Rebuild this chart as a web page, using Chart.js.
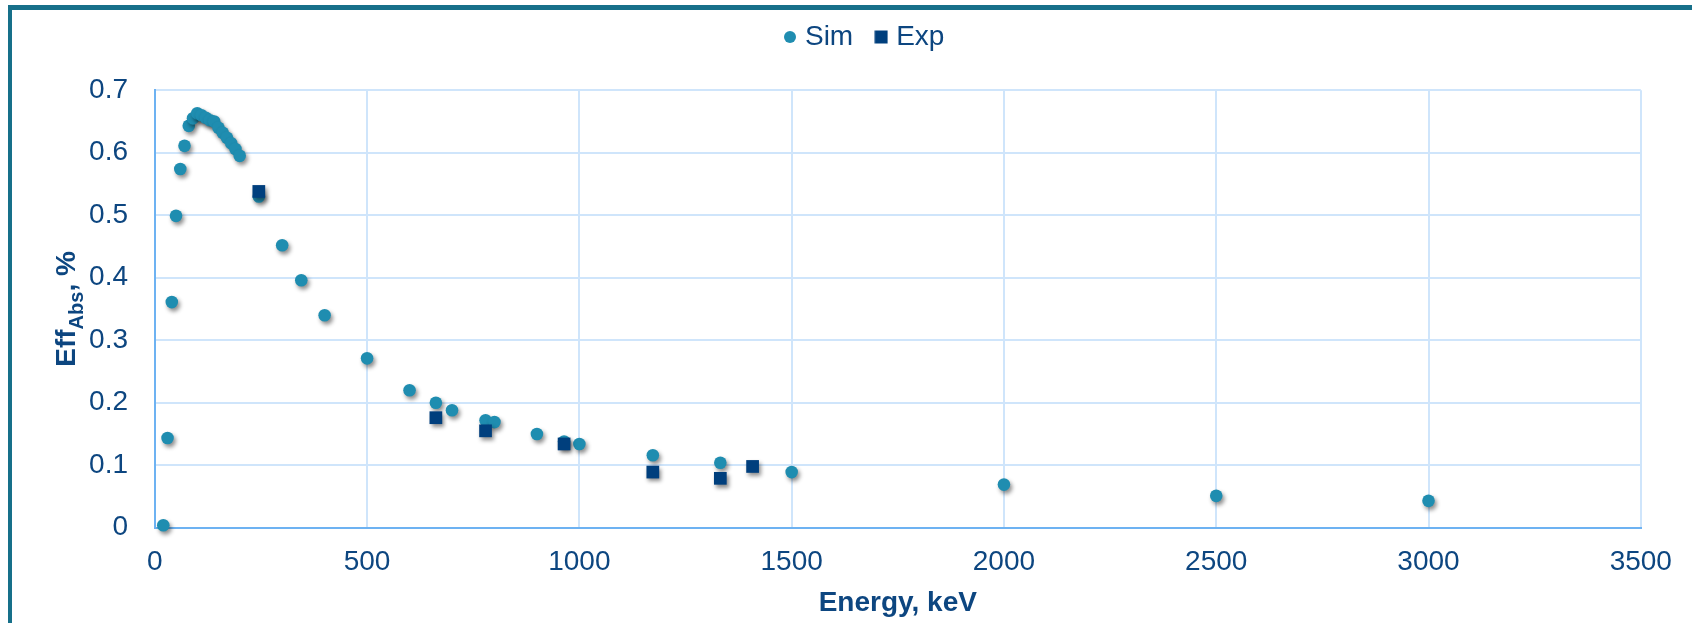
<!DOCTYPE html>
<html>
<head>
<meta charset="utf-8">
<script src="https://cdn.jsdelivr.net/npm/chart.js@4.4.1/dist/chart.umd.min.js"></script>
<style>
  html, body { margin: 0; padding: 0; background: #ffffff; overflow: hidden; }
  body { width: 1692px; height: 623px; position: relative; }
  #frame {
    position: absolute; left: 8px; top: 5px; width: 3000px; height: 3000px;
    border-top: 5.5px solid #17708a; border-left: 4px solid #17708a;
  }
  #chart { position: absolute; left: 0; top: 0; }
</style>
</head>
<body>
<div id="frame"></div>
<canvas id="chart" width="1692" height="623"></canvas>
<script>
// Simulated absolute efficiency vs. photon energy
const simEnergy = [20, 30, 40, 50, 60, 70, 80, 90, 100, 110, 120, 130, 140, 150, 160, 170, 180, 190, 200,
  245, 300, 345, 400, 500, 600, 662, 700, 779, 800, 900, 964, 1000, 1173, 1332, 1500, 2000, 2500, 3000];
const simEff = [0.004, 0.1435, 0.361, 0.499, 0.574, 0.611, 0.643, 0.655, 0.663, 0.660, 0.656, 0.652, 0.650,
  0.640, 0.632, 0.624, 0.615, 0.606, 0.595, 0.530, 0.452, 0.396, 0.340, 0.271, 0.220, 0.200, 0.188, 0.172,
  0.169, 0.150, 0.138, 0.134, 0.116, 0.104, 0.089, 0.069, 0.051, 0.043];

// Measured efficiency at the calibration-source lines
const expEnergy = [245, 662, 779, 964, 1173, 1332, 1408];
const expEff = [0.538, 0.176, 0.155, 0.134, 0.089, 0.079, 0.098];

const seriesNames = ['Sim', 'Exp'];

const xTickValues = [0, 500, 1000, 1500, 2000, 2500, 3000, 3500];
const xTickLabels = ['0', '500', '1000', '1500', '2000', '2500', '3000', '3500'];
const yTickValues = [0, 0.1, 0.2, 0.3, 0.4, 0.5, 0.6, 0.7];
const yTickLabels = ['0', '0.1', '0.2', '0.3', '0.4', '0.5', '0.6', '0.7'];

const xTitle = 'Energy, keV';
const yTitleMain = 'Eff';
const yTitleSub = 'Abs';
const yTitleTail = ', %';

const FONT = '"Liberation Sans", Arial, Helvetica, sans-serif';
const TEXT_COLOR = '#0d4680';
const SIM_COLOR = '#1f8db0';
const EXP_COLOR = '#003f7d';
const GRID_COLOR = '#cfe5fb';
const AXIS_COLOR = '#6db2f2';

// Plot-area edges on the canvas
const AREA = { left: 154.8, right: 1640.8, top: 90.2, bottom: 527.7 };
const PAD = { left: 0, right: 1692 - AREA.right, top: -4, bottom: 0 };
const LEGEND_LEFT = 92.6;

// Small marker images for the legend
function legendMark(kind, color) {
  const c = document.createElement('canvas');
  c.width = 14; c.height = 14;
  const g = c.getContext('2d');
  g.fillStyle = color;
  if (kind === 'circle') {
    g.beginPath(); g.arc(7, 7, 6, 0, Math.PI * 2); g.fill();
  } else {
    g.fillRect(0.5, 0.5, 13, 13);
  }
  return c;
}
const legendMarks = [legendMark('circle', SIM_COLOR), legendMark('rect', EXP_COLOR)];

// Soft drop shadow under the data markers
const markerShadow = {
  id: 'markerShadow',
  beforeDatasetDraw(chart) {
    const c = chart.ctx;
    c.save();
    c.shadowColor = 'rgba(0,0,0,0.45)';
    c.shadowBlur = 4;
    c.shadowOffsetX = 2;
    c.shadowOffsetY = 3;
  },
  afterDatasetDraw(chart) { chart.ctx.restore(); }
};

// Keeps the legend band tall enough that the plot starts at AREA.top,
// and centres the legend row over the plot
const legendBand = {
  id: 'legendBand',
  beforeLayout(chart) {
    const lg = chart.legend;
    if (lg && !lg._bandPatched) {
      const fit = lg.fit;
      lg.fit = function () { fit.call(this); this.height = AREA.top - PAD.top; };
      lg._bandPatched = true;
    }
  },
  afterLayout(chart) {
    if (chart.legend) chart.legend.left = LEGEND_LEFT;
  }
};

// Rotated y-axis title with subscript
const yAxisTitle = {
  id: 'yAxisTitle',
  afterDraw(chart) {
    const ctx = chart.ctx;
    const ca = chart.chartArea;
    const cy = (ca.top + ca.bottom) / 2;
    ctx.save();
    ctx.translate(75, cy);
    ctx.rotate(-Math.PI / 2);
    ctx.fillStyle = TEXT_COLOR;
    ctx.textBaseline = 'alphabetic';
    ctx.textAlign = 'left';
    const big = 'bold 28px ' + FONT;
    const small = 'bold 20px ' + FONT;
    ctx.font = big;
    const w1 = ctx.measureText(yTitleMain).width;
    const w3 = ctx.measureText(yTitleTail).width;
    ctx.font = small;
    const w2 = ctx.measureText(yTitleSub).width;
    let x = -(w1 + w2 + w3) / 2;
    ctx.font = big;
    ctx.fillText(yTitleMain, x, 0);
    x += w1;
    ctx.font = small;
    ctx.fillText(yTitleSub, x, 8);
    x += w2;
    ctx.font = big;
    ctx.fillText(yTitleTail, x, 0);
    ctx.restore();
  }
};

const simPoints = simEnergy.map((e, i) => ({ x: e, y: simEff[i] }));
const expPoints = expEnergy.map((e, i) => ({ x: e, y: expEff[i] }));

new Chart(document.getElementById('chart'), {
  type: 'scatter',
  data: {
    datasets: [
      {
        label: seriesNames[0],
        data: simPoints,
        pointStyle: 'circle',
        pointRadius: 6.3,
        pointHoverRadius: 6.3,
        backgroundColor: SIM_COLOR,
        borderColor: SIM_COLOR,
        borderWidth: 0,
        clip: false,
        order: 1
      },
      {
        label: seriesNames[1],
        data: expPoints,
        pointStyle: 'rect',
        pointRadius: 9,
        pointHoverRadius: 9,
        backgroundColor: EXP_COLOR,
        borderColor: EXP_COLOR,
        borderWidth: 0,
        clip: false,
        order: 0
      }
    ]
  },
  options: {
    responsive: false,
    animation: false,
    events: [],
    layout: { padding: PAD },
    plugins: {
      tooltip: { enabled: false },
      legend: {
        display: true,
        position: 'top',
        align: 'center',
        labels: {
          usePointStyle: true,
          pointStyleWidth: 2,
          padding: 27,
          color: TEXT_COLOR,
          font: { family: FONT, size: 28 },
          sort: (a, b) => a.datasetIndex - b.datasetIndex,
          generateLabels(chart) {
            const items = Chart.defaults.plugins.legend.labels.generateLabels(chart);
            items.forEach(it => {
              it.pointStyle = legendMarks[it.datasetIndex];
              it.fontColor = TEXT_COLOR;
            });
            return items;
          }
        }
      }
    },
    scales: {
      x: {
        type: 'linear',
        position: 'bottom',
        min: 0,
        max: 3500,
        afterBuildTicks: s => { s.ticks = xTickValues.map(v => ({ value: v })); },
        afterFit: s => { s.height = 623 - AREA.bottom - PAD.bottom; },
        ticks: {
          padding: 18,
          color: TEXT_COLOR,
          font: { family: FONT, size: 28 },
          maxRotation: 0,
          autoSkip: false,
          callback: (v, i) => xTickLabels[i]
        },
        grid: { color: GRID_COLOR, lineWidth: 2, drawTicks: false },
        border: { color: AXIS_COLOR, width: 2 },
        title: {
          display: true,
          text: xTitle,
          color: TEXT_COLOR,
          font: { family: FONT, size: 28, weight: 'bold' },
          padding: { top: 0, bottom: 3 }
        }
      },
      y: {
        type: 'linear',
        min: 0,
        max: 0.7,
        afterBuildTicks: s => { s.ticks = yTickValues.map(v => ({ value: v })); },
        afterFit: s => { s.width = AREA.left - PAD.left; },
        ticks: {
          padding: 26.8,
          color: TEXT_COLOR,
          font: { family: FONT, size: 28 },
          callback: (v, i) => yTickLabels[i]
        },
        grid: { color: GRID_COLOR, lineWidth: 2, drawTicks: false },
        border: { color: AXIS_COLOR, width: 2 }
      }
    }
  },
  plugins: [legendBand, markerShadow, yAxisTitle]
});
</script>
</body>
</html>
